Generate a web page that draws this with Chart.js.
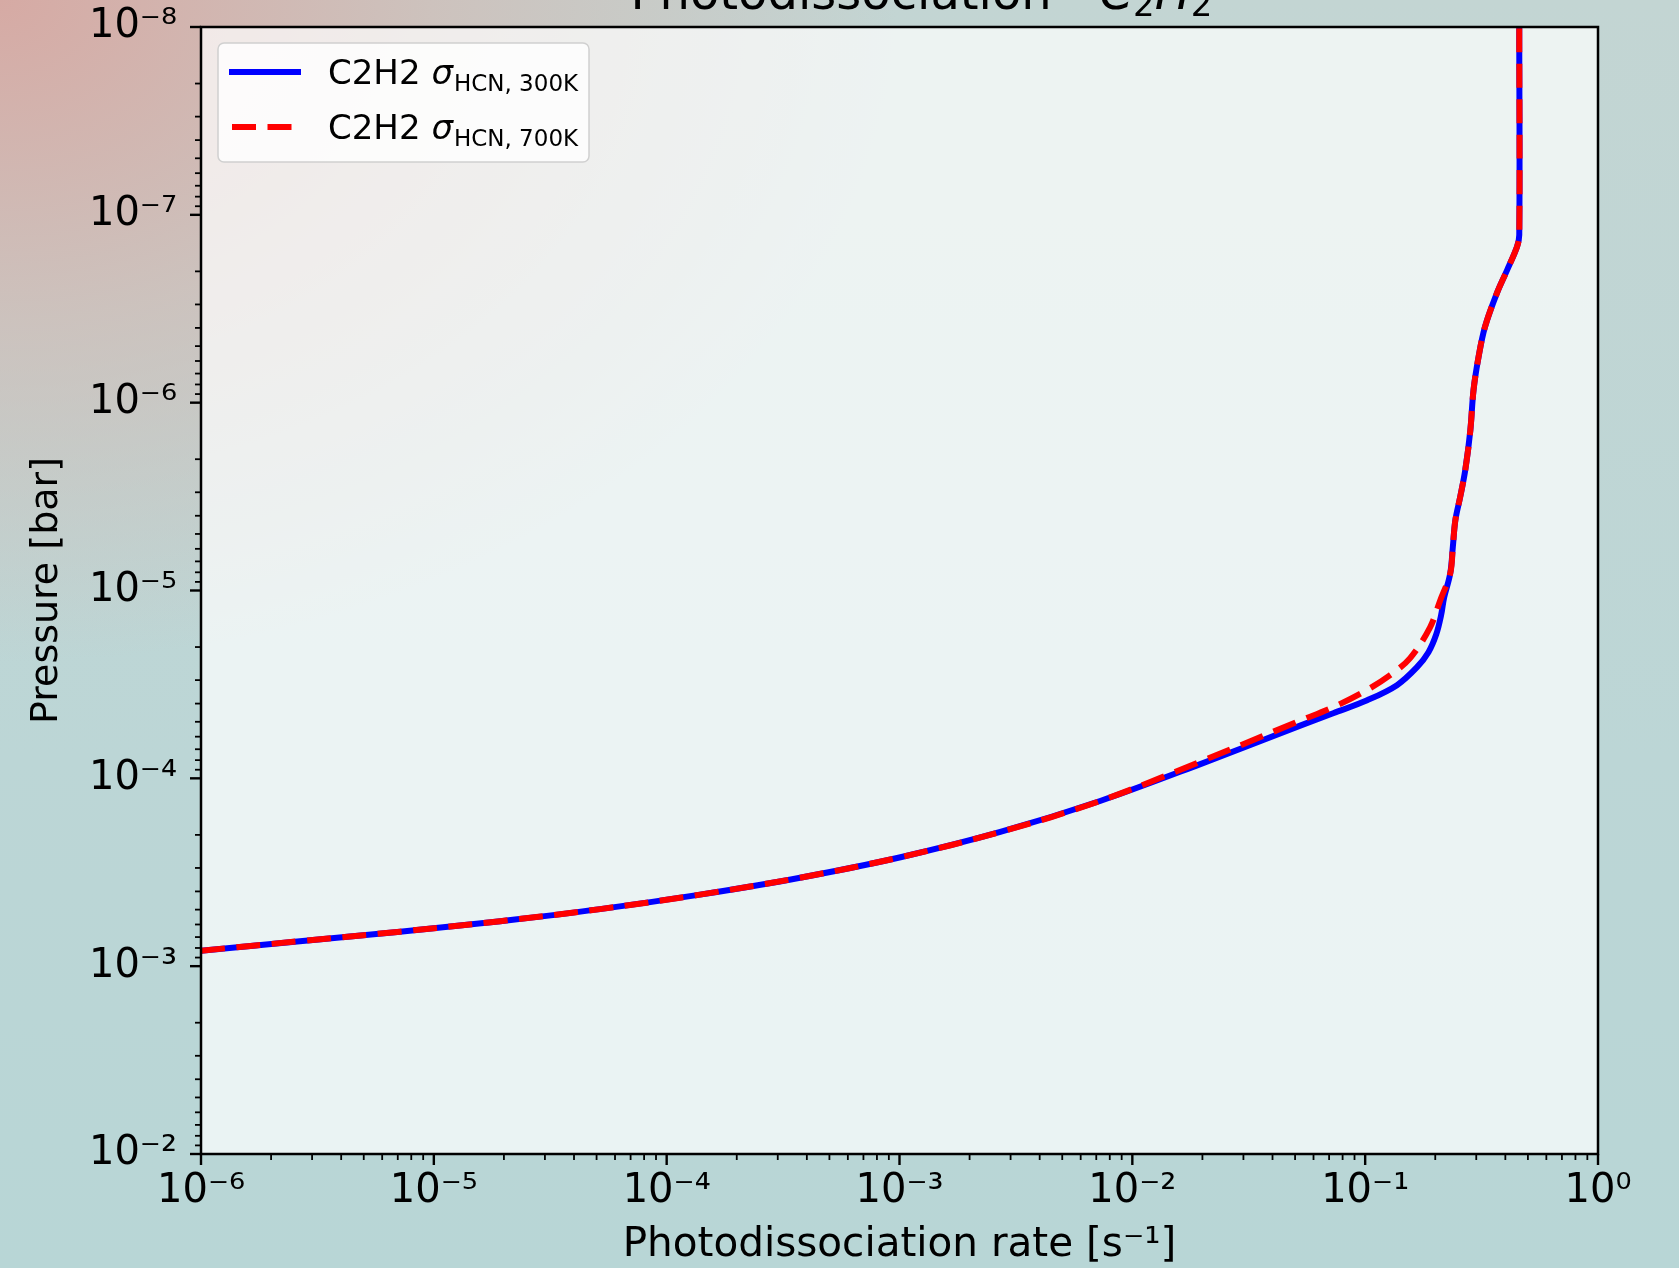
<!DOCTYPE html>
<html>
<head>
<meta charset="utf-8">
<title>Photodissociation - C2H2</title>
<script src="https://cdn.jsdelivr.net/npm/chart.js@4.4.1/dist/chart.umd.min.js"></script>
<style>
  html, body { margin: 0; padding: 0; overflow: hidden; }
  body {
    width: 1679px;
    height: 1268px;
    background:
      radial-gradient(ellipse 1150px 850px at 0% 0%, rgba(214, 170, 164, 1) 0%, rgba(208, 188, 182, 0.75) 38%, rgba(196, 208, 204, 0) 78%),
      linear-gradient(180deg, #c3d5d3 0%, #bcd6d6 60%, #b8d6d6 100%);
  }
  #wrap { position: relative; width: 1679px; height: 1268px; }
</style>
</head>
<body>
<div id="wrap"><canvas id="chart"></canvas></div>
<script>
const FONT = '"DejaVu Sans", "Liberation Sans", sans-serif';

// photodissociation rate [s^-1] against pressure [bar]
const rate300 = [
  1e-6, 2.66e-6, 7.16e-6, 1.93e-5, 5.17e-5, 1.39e-4, 3.74e-4, 1.01e-3, 2.71e-3, 7.27e-3,
  1.96e-2, 5.26e-2, 7.29e-2, 0.102, 0.137, 0.167, 0.187, 0.202, 0.212, 0.218,
  0.232, 0.238, 0.244, 0.256, 0.269, 0.283, 0.292, 0.307, 0.327, 0.368,
  0.407, 0.449, 0.459, 0.459,
];
const pres300 = [
  8.27e-4, 7.36e-4, 6.55e-4, 5.76e-4, 4.97e-4, 4.16e-4, 3.38e-4, 2.63e-4, 1.93e-4, 1.32e-4,
  8.40e-5, 5.24e-5, 4.50e-5, 3.84e-5, 3.19e-5, 2.56e-5, 2.13e-5, 1.71e-5, 1.35e-5, 1.10e-5,
  8.1e-6, 5.85e-6, 4.22e-6, 3.17e-6, 2.29e-6, 1.40e-6, 8.57e-7, 5.70e-7, 3.95e-7, 2.61e-7,
  1.97e-7, 1.48e-7, 1.28e-7, 1e-8,
];
const rate700 = [
  1e-6, 2.66e-6, 7.16e-6, 1.93e-5, 5.17e-5, 1.39e-4, 3.74e-4, 1.01e-3, 2.71e-3, 7.27e-3,
  1.96e-2, 5.26e-2, 7.29e-2, 0.098, 0.128, 0.156, 0.190, 0.210,
  0.232, 0.238, 0.244, 0.256, 0.269, 0.283, 0.292, 0.307, 0.327, 0.368,
  0.407, 0.449, 0.459, 0.459,
];
const pres700 = [
  8.27e-4, 7.36e-4, 6.55e-4, 5.76e-4, 4.97e-4, 4.16e-4, 3.38e-4, 2.63e-4, 1.93e-4, 1.32e-4,
  8.15e-5, 4.93e-5, 4.18e-5, 3.48e-5, 2.82e-5, 2.29e-5, 1.57e-5, 1.13e-5,
  8.1e-6, 5.85e-6, 4.22e-6, 3.17e-6, 2.29e-6, 1.40e-6, 8.57e-7, 5.70e-7, 3.95e-7, 2.61e-7,
  1.97e-7, 1.48e-7, 1.28e-7, 1e-8,
];

// decade exponents for the major ticks, minor ticks in between
const xDecades = [-6, -5, -4, -3, -2, -1, 0];
const yDecades = [-8, -7, -6, -5, -4, -3, -2];
const minorSteps = [2, 3, 4, 5, 6, 7, 8, 9];

const legendParts = [
  { main: 'C2H2 ', sym: 'σ', sub: 'HCN, 300K' },
  { main: 'C2H2 ', sym: 'σ', sub: 'HCN, 700K' },
];

const SUP = { '-': '⁻', 0: '⁰', 1: '¹', 2: '²', 3: '³', 4: '⁴', 5: '⁵', 6: '⁶', 7: '⁷', 8: '⁸', 9: '⁹' };
const sup = (n) => String(n).split('').map((c) => SUP[c]).join('');

function logTicks(decades) {
  const ticks = [];
  decades.forEach((e, i) => {
    ticks.push({ value: Math.pow(10, e), major: true });
    if (i < decades.length - 1) {
      minorSteps.forEach((m) => ticks.push({ value: m * Math.pow(10, e), major: false }));
    }
  });
  return ticks;
}

function tickLabel(value, index, ticks) {
  if (!ticks[index].major) return '';
  return '10' + sup(Math.round(Math.log10(value)));
}

const toPoints = (xs, ys) => xs.map((x, i) => ({ x, y: ys[i] }));

function drawTicks(ctx, scale, area) {
  ctx.strokeStyle = '#000';
  scale.ticks.forEach((t) => {
    const len = t.major ? 11 : 6;
    ctx.lineWidth = t.major ? 2.4 : 1.8;
    const p = scale.getPixelForValue(t.value);
    ctx.beginPath();
    if (scale.isHorizontal()) {
      ctx.moveTo(p, area.bottom);
      ctx.lineTo(p, area.bottom + len);
    } else {
      ctx.moveTo(area.left, p);
      ctx.lineTo(area.left - len, p);
    }
    ctx.stroke();
  });
}

function drawLegend(chart) {
  const { ctx, chartArea: area } = chart;
  const x0 = area.left + 17;
  const y0 = area.top + 16;
  const w = 371;
  const h = 119;
  ctx.save();
  ctx.beginPath();
  ctx.roundRect(x0, y0, w, h, 6);
  ctx.fillStyle = 'rgba(255,255,255,0.8)';
  ctx.fill();
  ctx.lineWidth = 1.5;
  ctx.strokeStyle = '#d0d0d0';
  ctx.stroke();

  chart.data.datasets.forEach((ds, i) => {
    const rowY = y0 + 29 + i * 55;
    const dashed = !!ds.borderDash;
    ctx.beginPath();
    ctx.setLineDash(ds.borderDash || []);
    ctx.lineCap = 'butt';
    ctx.lineWidth = ds.borderWidth;
    ctx.strokeStyle = ds.borderColor;
    ctx.moveTo(x0 + (dashed ? 14 : 11), rowY);
    ctx.lineTo(x0 + 83, rowY);
    ctx.stroke();
    ctx.setLineDash([]);

    const parts = legendParts[i];
    const base = rowY + 12;
    let tx = x0 + 110;
    ctx.fillStyle = '#000';
    ctx.textBaseline = 'alphabetic';
    ctx.textAlign = 'left';
    ctx.font = `34px ${FONT}`;
    ctx.fillText(parts.main, tx, base);
    tx += ctx.measureText(parts.main).width;
    ctx.font = `italic 34px ${FONT}`;
    ctx.fillText(parts.sym, tx, base);
    tx += ctx.measureText(parts.sym).width + 1;
    ctx.font = `23px ${FONT}`;
    ctx.fillText(parts.sub, tx, base + 7);
  });
  ctx.restore();
}

function drawTitle(chart) {
  const { ctx, chartArea: area } = chart;
  const pieces = [
    { t: 'Photodissociation - ', f: `48px ${FONT}`, dy: 0 },
    { t: 'C', f: `italic 48px ${FONT}`, dy: 0 },
    { t: '2', f: `34px ${FONT}`, dy: 7 },
    { t: 'H', f: `italic 48px ${FONT}`, dy: 0 },
    { t: '2', f: `34px ${FONT}`, dy: 7 },
  ];
  ctx.save();
  ctx.fillStyle = '#000';
  ctx.textBaseline = 'alphabetic';
  ctx.textAlign = 'left';
  let total = 0;
  pieces.forEach((p) => { ctx.font = p.f; total += ctx.measureText(p.t).width; });
  let x = (area.left + area.right) / 2 - total / 2 + 22;
  const base = 9;
  pieces.forEach((p) => {
    ctx.font = p.f;
    ctx.fillText(p.t, x, base + p.dy);
    x += ctx.measureText(p.t).width;
  });
  ctx.restore();
}

const mplDecor = {
  id: 'mplDecor',
  beforeDatasetsDraw(chart) {
    const { ctx, chartArea: a } = chart;
    ctx.save();
    ctx.fillStyle = 'rgba(255,255,255,0.7)';
    ctx.fillRect(a.left, a.top, a.right - a.left, a.bottom - a.top);
    ctx.restore();
  },
  afterDatasetsDraw(chart) {
    const { ctx, chartArea: a } = chart;
    ctx.save();
    drawTicks(ctx, chart.scales.x, a);
    drawTicks(ctx, chart.scales.y, a);
    ctx.lineWidth = 2.5;
    ctx.strokeStyle = '#000';
    ctx.strokeRect(a.left, a.top, a.right - a.left, a.bottom - a.top);
    ctx.restore();
  },
  afterDraw(chart) {
    drawLegend(chart);
    drawTitle(chart);
  },
};

new Chart(document.getElementById('chart'), {
  type: 'line',
  data: {
    datasets: [
      {
        label: 'C2H2 σHCN, 300K',
        data: toPoints(rate300, pres300),
        borderColor: '#0000ff',
        borderWidth: 6,
        order: 1,
      },
      {
        label: 'C2H2 σHCN, 700K',
        data: toPoints(rate700, pres700),
        borderColor: '#ff0000',
        borderWidth: 6,
        borderDash: [24, 11.5],
        order: 0,
      },
    ],
  },
  options: {
    responsive: true,
    maintainAspectRatio: false,
    animation: false,
    layout: { padding: { top: 27, right: 81, left: 0, bottom: 0 } },
    elements: {
      point: { radius: 0 },
      line: { tension: 0.35, borderCapStyle: 'butt', borderJoinStyle: 'round', fill: false },
    },
    plugins: {
      legend: { display: false },
      tooltip: { enabled: false },
    },
    scales: {
      x: {
        type: 'logarithmic',
        min: 1e-6,
        max: 1,
        afterBuildTicks: (s) => { s.ticks = logTicks(xDecades); },
        afterFit: (s) => {
          s.height = 114;
          s.paddingLeft = 0;
          s.paddingRight = 0;
        },
        grid: { display: false, drawTicks: false },
        border: { display: false },
        ticks: {
          autoSkip: false,
          maxRotation: 0,
          padding: 14,
          color: '#000',
          font: { family: FONT, size: 40 },
          callback: tickLabel,
        },
        title: {
          display: true,
          text: 'Photodissociation rate [s⁻¹]',
          color: '#000',
          font: { family: FONT, size: 40.5, lineHeight: 1 },
          padding: { top: 0, bottom: 2 },
        },
      },
      y: {
        type: 'logarithmic',
        min: 1e-8,
        max: 1e-2,
        reverse: true,
        afterBuildTicks: (s) => { s.ticks = logTicks(yDecades); },
        afterFit: (s) => {
          s.width = 201;
          s.paddingTop = 0;
          s.paddingBottom = 0;
        },
        grid: { display: false, drawTicks: false },
        border: { display: false },
        ticks: {
          autoSkip: false,
          padding: 24,
          color: '#000',
          font: { family: FONT, size: 40 },
          callback: tickLabel,
        },
        title: {
          display: true,
          text: 'Pressure [bar]',
          color: '#000',
          font: { family: FONT, size: 38, lineHeight: 1 },
          padding: { top: 28, bottom: 0 },
        },
      },
    },
  },
  plugins: [mplDecor],
});
</script>
</body>
</html>
